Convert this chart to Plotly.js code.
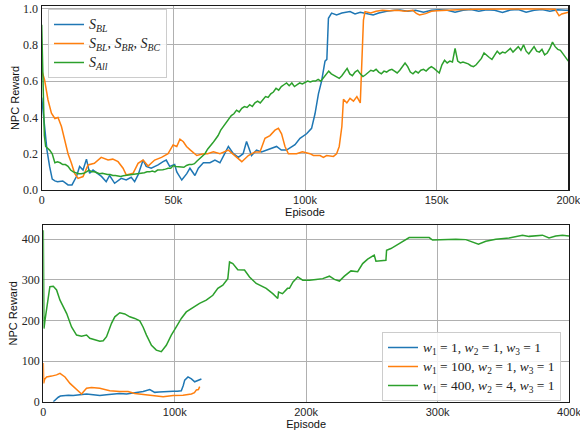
<!DOCTYPE html>
<html>
<head>
<meta charset="utf-8">
<script src="https://cdn.plot.ly/plotly-3.0.1.min.js"></script>
<style>html,body{margin:0;padding:0;background:#fff;overflow:hidden;}#chart{width:580px;height:437px;}</style>
</head>
<body>
<div id="chart"></div>
<script>
// ---------- Top panel (episodes in thousands) ----------
const topBlueX = [0,1,2,3,4,5,6,8,10,11.5,13.2,14.4,15.7,17,18.2,19.5,20.8,22.7,24.5,25.8,27.7,30.2,32.1,34,35.3,36.6,38.5,39.7,41.6,44.2,46.1,47.3,48.6,50.5,51.3,53.2,55.1,56.3,58.2,59.5,61.4,63.9,65.8,67.7,69.5,70.9,72.8,74.7,76.5,77.8,79.7,81.6,83.5,85.4,87.3,89.2,91,93,94.6,96.2,98.1,99.5,100.6,102.5,103.8,105.1,106.3,107.6,108.3,108.9,110.1,112,114,117.1,119,121,123,125.9,128,131,134,136.1,139,142,145,148,151,154,157,160,163,166,169,172,175,178,181,184,187,190,193,196,199,200];
const topBlueY = [0.51,0.35,0.22,0.13,0.06,0.05,0.046,0.05,0.028,0.028,0.074,0.13,0.11,0.17,0.092,0.11,0.095,0.075,0.046,0.08,0.037,0.064,0.055,0.07,0.046,0.083,0.165,0.13,0.12,0.138,0.156,0.165,0.13,0.14,0.1,0.055,0.09,0.12,0.08,0.12,0.15,0.15,0.165,0.15,0.2,0.24,0.2,0.18,0.2,0.267,0.19,0.22,0.21,0.22,0.23,0.24,0.22,0.22,0.235,0.25,0.285,0.3,0.31,0.34,0.42,0.53,0.6,0.71,0.72,0.946,0.975,0.965,0.975,0.983,0.97,0.98,0.972,0.964,0.975,0.985,0.99,0.992,0.985,0.99,0.98,0.99,0.993,0.99,0.98,0.99,0.995,0.985,0.993,0.99,0.978,0.992,0.995,0.98,0.99,0.995,0.985,0.993,0.99,0.99];

const topOrangeX = [0,0.5,1.1,2.4,3.7,5,6.2,7.5,8.7,10,11.3,12.5,13.8,15.7,17.6,20,22.6,25.2,27,29,30.9,32.1,34.7,36.6,38.5,40.4,42.9,45.5,48,49.9,51.3,52.5,53.8,55,56.5,58.9,61.4,63,65.2,67.7,70.9,74,76,78.5,81,82.9,84.8,86.7,88.6,89.9,91.1,92.4,93.7,96.8,99,101.9,103.2,105.7,107,108.2,110.8,112,113,114,114.6,115.9,117.1,118.4,119.7,121,121.6,122.2,122.8,125,127,129.4,132,135,138,141,142.3,143.5,145.8,148,150,155,160,165,170,175,180,185,190,195,196.5,197.5,200];
const topOrangeY = [0.66,0.64,0.606,0.496,0.423,0.394,0.4,0.35,0.275,0.2,0.147,0.092,0.064,0.074,0.138,0.147,0.18,0.165,0.17,0.156,0.12,0.083,0.092,0.147,0.165,0.132,0.165,0.18,0.2,0.248,0.24,0.28,0.266,0.24,0.22,0.19,0.2,0.2,0.21,0.2,0.22,0.18,0.156,0.19,0.21,0.21,0.285,0.3,0.33,0.34,0.31,0.24,0.2,0.2,0.21,0.2,0.19,0.19,0.18,0.19,0.185,0.2,0.24,0.35,0.5,0.48,0.505,0.49,0.515,0.48,0.725,0.936,0.983,0.975,0.985,0.99,0.988,0.99,0.985,0.99,0.973,0.965,0.972,0.985,0.988,0.993,0.995,0.996,0.997,0.996,0.997,0.998,0.997,0.996,0.96,0.97,0.98];

const topGreenX = [0,0.5,1,1.5].concat(Array.from({length:199},(_,i)=>i+2));
const topGreenY = [0.91,0.5,0.3,0.24,
0.235,0.22,0.2,0.15,0.155,0.15,0.14,0.14,0.13,0.11,
0.1,0.095,0.09,0.09,0.092,0.1,0.11,0.1,0.1,0.095,
0.09,0.092,0.088,0.085,0.085,0.08,0.08,0.075,0.074,0.078,
0.08,0.08,0.082,0.085,0.09,0.09,0.092,0.095,0.1,0.1,
0.105,0.1,0.11,0.11,0.112,0.115,0.12,0.12,0.135,0.13,
0.128,0.13,0.125,0.135,0.14,0.14,0.145,0.16,0.175,0.19,
0.2,0.225,0.24,0.26,0.28,0.3,0.33,0.35,0.37,0.39,
0.41,0.42,0.44,0.43,0.45,0.46,0.455,0.47,0.46,0.48,
0.49,0.48,0.5,0.515,0.51,0.53,0.54,0.56,0.55,0.57,
0.58,0.59,0.575,0.59,0.57,0.58,0.59,0.585,0.595,0.6,
0.595,0.6,0.6,0.61,0.6,0.62,0.64,0.655,0.64,0.63,
0.62,0.615,0.63,0.65,0.67,0.64,0.63,0.65,0.66,0.64,
0.625,0.635,0.65,0.66,0.655,0.665,0.65,0.64,0.655,0.65,
0.66,0.665,0.655,0.645,0.66,0.68,0.7,0.68,0.65,0.64,
0.655,0.645,0.66,0.665,0.655,0.67,0.68,0.67,0.655,0.645,
0.69,0.715,0.7,0.71,0.705,0.78,0.71,0.7,0.705,0.7,
0.695,0.685,0.68,0.69,0.71,0.725,0.755,0.74,0.73,0.72,
0.745,0.765,0.75,0.76,0.755,0.77,0.78,0.76,0.775,0.79,
0.77,0.8,0.765,0.75,0.77,0.79,0.765,0.76,0.775,0.745,
0.755,0.78,0.815,0.79,0.775,0.77,0.75,0.73,0.71];

// ---------- Bottom panel (episodes in thousands) ----------
const botBlueX = [7.6,9,11.4,13,15.2,19,22.8,28,32.9,38,43,48,53.2,58,63.3,68.4,72,76,81,84.8,88,91.2,95,98.8,102,105,106.5,107.6,110.1,112.7,115.2,117.7,120.3];
const botBlueY = [0,5,11,14,15,16,15,17,19,17,15,17,19,20,19,22,23,25,30,23,24,25,25,26,26,27,40,53,61,56,49,53,56];

const botOrangeX = [0,0.3,1,2.5,6.3,10.1,12.7,16.5,20.3,25.3,29.1,32.9,36.7,43,50.6,58.2,64.5,69.6,76,83.5,91.2,98.8,106.3,112.7,115,116.5,118,119];
const botOrangeY = [95,45,55,61,63,66,70,61,45,29,19,33,35,33,27,25,25,20,18,15,12,15,16,19,22,29,30,37];

const botGreenX = [0,0.5,1.3,2.5,3.7,5,7.6,10.1,12.7,15.2,17.8,21.5,25.3,29.1,32.9,35.4,39.2,43,45.6,48.1,51.9,54.4,58.2,62,65.8,69.6,73.4,75.9,78.5,82.3,86,89.8,93.6,97.4,101.2,105,108.8,113.9,118.9,124,129,132.8,136.6,140.4,141.7,144.2,148,153.1,156.9,162,169.6,174.6,178.4,179,182,185.8,187.3,190,193.6,197.4,202.5,207.5,212.6,217.7,221.5,225.3,229.1,234.1,239.2,243,246.8,251.8,253.1,256.9,260.7,261.2,264.5,270.8,278.4,286,293.6,296.2,303.8,313.9,321.5,326.6,331.1,336.7,344.3,354.4,364.6,369.6,374.7,379.8,384.8,389.9,395,400];
const botGreenY = [422,180,201,229,258,283,284,275,250,232,217,184,164,161,164,156,152,149,150,160,193,209,219,216,209,205,199,184,164,139,127,123,139,164,184,205,221,232,242,250,262,279,287,303,344,340,325,324,307,291,279,266,254,270,266,279,279,295,307,299,299,301,303,309,301,297,309,322,320,340,351,361,346,347,348,373,377,389,404,404,404,398,399,400,399,393,388,395,400,403,410,407,408,410,403,408,410,408];

// ---------- Labels ----------
const topNames = ['<i>S</i><sub><i>BL</i></sub>', '<i>S</i><sub><i>BL</i></sub>, <i>S</i><sub><i>BR</i></sub>, <i>S</i><sub><i>BC</i></sub>', '<i>S</i><sub><i>All</i></sub>'];
const botNames = ['<i>w</i><sub>1</sub> = 1, <i>w</i><sub>2</sub> = 1, <i>w</i><sub>3</sub> = 1', '<i>w</i><sub>1</sub> = 100, <i>w</i><sub>2</sub> = 1, <i>w</i><sub>3</sub> = 1', '<i>w</i><sub>1</sub> = 400, <i>w</i><sub>2</sub> = 4, <i>w</i><sub>3</sub> = 1'];
const topXTicks = [0,50,100,150,200];
const topXLabels = ['0','50k','100k','150k','200k'];
const topYTicks = [0,0.2,0.4,0.6,0.8,1.0];
const topYLabels = ['0.0','0.2','0.4','0.6','0.8','1.0'];
const botXTicks = [0,100,200,300,400];
const botXLabels = ['0','100k','200k','300k','400k'];
const botYTicks = [0,100,200,300,400];
const botYLabels = ['0','100','200','300','400'];

const colors = ['#1f77b4','#ff7f0e','#2ca02c'];
const SERIF = 'Liberation Serif, DejaVu Serif, serif';
const SANS = 'Liberation Sans, Arial, sans-serif';
const serifSpan = t => /^[0-9.]+$/.test(t) ? '<span style="font-family:Liberation Serif;font-size:12px">'+t+'</span>' : t;
const big = (t,s) => '<span style="font-size:'+s+'px">'+t+'</span>';

function tr(x,y,name,c,xa,ya,leg){
  return {x:x,y:y,name:name,type:'scatter',mode:'lines',line:{color:c,width:1.5},xaxis:xa,yaxis:ya,legend:leg,hoverinfo:'skip'};
}
const data = [
  tr(topBlueX,topBlueY,big(topNames[0],14),colors[0],'x','y','legend'),
  tr(topOrangeX,topOrangeY,big(topNames[1],14),colors[1],'x','y','legend'),
  tr(topGreenX,topGreenY,big(topNames[2],14),colors[2],'x','y','legend'),
  tr(botBlueX,botBlueY,big(botNames[0],13.5),colors[0],'x2','y2','legend2'),
  tr(botOrangeX,botOrangeY,big(botNames[1],13.5),colors[1],'x2','y2','legend2'),
  tr(botGreenX,botGreenY,big(botNames[2],13.5),colors[2],'x2','y2','legend2')
];

const W=580,H=437;
const axCommon = {showgrid:true,gridcolor:'#b0b0b0',gridwidth:1,zeroline:false,showline:true,mirror:true,linecolor:'#1a1a1a',linewidth:1.2,ticks:'',automargin:false,fixedrange:true};
const xTickFont = {family:SANS,size:11,color:'#262626'};
const yTickFont = {family:SERIF,size:12,color:'#262626'};
const titleFont = {family:SANS,size:11,color:'#111'};
const legCommon = {xanchor:'left',yanchor:'top',bgcolor:'rgba(255,255,255,0.85)',bordercolor:'#cccccc',borderwidth:1,font:{family:SERIF,size:11,color:'#222'},itemwidth:30,tracegroupgap:0};

const layout = {
  width:W,height:H,margin:{l:0,r:0,t:0,b:0},
  paper_bgcolor:'#fff',plot_bgcolor:'#fff',
  showlegend:true,
  xaxis:Object.assign({},axCommon,{domain:[41.7/W,568.3/W],anchor:'y',range:[0,200],tickvals:topXTicks,ticktext:topXLabels.map(serifSpan),tickfont:xTickFont,ticklabeloverflow:'allow',title:{text:'Episode',font:titleFont,standoff:1}}),
  yaxis:Object.assign({},axCommon,{domain:[1-190/H,1-6/H],anchor:'x',range:[0,1.014],tickvals:topYTicks,ticktext:topYLabels,tickfont:yTickFont,title:{text:'NPC Reward',font:titleFont,standoff:1}}),
  xaxis2:Object.assign({},axCommon,{domain:[43.3/W,569/W],anchor:'y2',range:[0,400],tickvals:botXTicks,ticktext:botXLabels.map(serifSpan),tickfont:xTickFont,ticklabeloverflow:'allow',title:{text:'Episode',font:titleFont,standoff:1}}),
  yaxis2:Object.assign({},axCommon,{domain:[1-401.7/H,1-225/H],anchor:'x2',range:[0,435],tickvals:botYTicks,ticktext:botYLabels,tickfont:yTickFont,title:{text:'NPC Reward',font:titleFont,standoff:1}}),
  legend:Object.assign({},legCommon,{x:48/W,y:1-9/H}),
  legend2:Object.assign({},legCommon,{x:382/W,y:1-332/H})
};

Plotly.newPlot('chart',data,layout,{displayModeBar:false,staticPlot:true});
</script>
</body>
</html>
